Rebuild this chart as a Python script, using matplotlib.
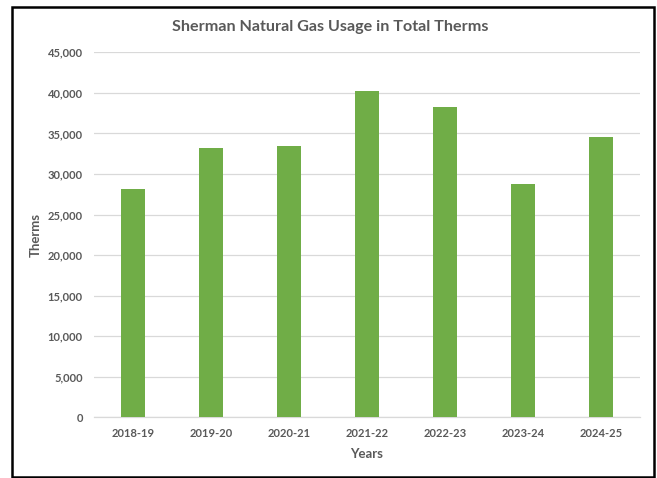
import matplotlib.pyplot as plt
from matplotlib.patches import Rectangle
from matplotlib.ticker import FuncFormatter

years = ['2018-19', '2019-20', '2020-21', '2021-22', '2022-23', '2023-24', '2024-25']
therms = [28110, 33200, 33410, 40230, 38220, 28800, 34560]

grey = '#595959'
plt.rcParams['font.family'] = ['Lato', 'DejaVu Sans']

fig = plt.figure(figsize=(6.57, 4.78), dpi=100)
ax = fig.add_axes([0.1431, 0.127, 0.831, 0.7636])

ax.bar(range(len(years)), therms, width=0.314, color='#70AD47', zorder=3)

ax.set_xlim(-0.5, len(years) - 0.5)
ax.set_ylim(0, 45000)
ax.set_yticks(range(0, 45001, 5000))
ax.yaxis.set_major_formatter(FuncFormatter(lambda v, p: f'{int(v):,}'))
ax.set_xticks(range(len(years)))
ax.set_xticklabels(years)

ax.grid(axis='y', color='#D9D9D9', lw=0.9, zorder=0)
for s in ['top', 'right', 'left']:
    ax.spines[s].set_visible(False)
ax.spines['bottom'].set_color('#D9D9D9')
ax.spines['bottom'].set_linewidth(0.9)
ax.tick_params(length=0, labelsize=8, labelcolor=grey, pad=8)
for lbl in ax.get_xticklabels() + ax.get_yticklabels():
    lbl.set_fontweight('bold')

ax.set_xlabel('Years', fontsize=9.5, fontweight='bold', color=grey, labelpad=6)
ax.set_ylabel('Therms', fontsize=9.5, fontweight='bold', color=grey, labelpad=4)
fig.text(0.5025, 0.944, 'Sherman Natural Gas Usage in Total Therms', ha='center', va='center',
         fontsize=11.6, fontweight='bold', color=grey)

# black frame around the chart
fig.patches.append(Rectangle((11.5 / 657, 1.5 / 478), 642 / 657, 470 / 478, transform=fig.transFigure,
                             fill=False, edgecolor='black', lw=1.8))

fig.savefig('out.png', dpi=100)
